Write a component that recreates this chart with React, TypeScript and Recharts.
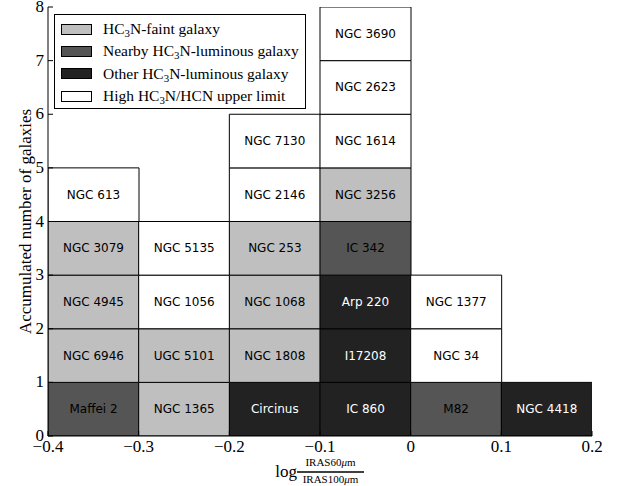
import { BarChart, Bar, XAxis, YAxis, Cell, LabelList, Legend } from 'recharts';

const binCenters = [-0.35, -0.25, -0.15, -0.05, 0.05, 0.15];

// galaxies per bin, listed from the bottom of the stack up
const galaxyNames = [
  ['Maffei 2', 'NGC 6946', 'NGC 4945', 'NGC 3079', 'NGC 613'],
  ['NGC 1365', 'UGC 5101', 'NGC 1056', 'NGC 5135'],
  ['Circinus', 'NGC 1808', 'NGC 1068', 'NGC 253', 'NGC 2146', 'NGC 7130'],
  ['IC 860', 'I17208', 'Arp 220', 'IC 342', 'NGC 3256', 'NGC 1614', 'NGC 2623', 'NGC 3690'],
  ['M82', 'NGC 34', 'NGC 1377'],
  ['NGC 4418'],
];

const galaxyClasses = [
  ['nearby', 'faint', 'faint', 'faint', 'limit'],
  ['faint', 'faint', 'limit', 'limit'],
  ['other', 'faint', 'faint', 'faint', 'limit', 'limit'],
  ['other', 'other', 'other', 'nearby', 'faint', 'limit', 'limit', 'limit'],
  ['nearby', 'limit', 'limit'],
  ['other'],
];

const xTicks = [-0.4, -0.3, -0.2, -0.1, 0, 0.1, 0.2];
const yTicks = [0, 1, 2, 3, 4, 5, 6, 7, 8];

const legendClasses = ['faint', 'nearby', 'other', 'limit'];

const classFill: Record<string, string> = {
  faint: '#bfbfbf',
  nearby: '#555555',
  other: '#222222',
  limit: '#ffffff',
};

const maxLevels = Math.max(...galaxyNames.map((g) => g.length));
const levels = Array.from({ length: maxLevels }, (_, k) => k);

const rows = binCenters.map((x, i) => {
  const row: any = { x };
  levels.forEach((k) => {
    row[`l${k}`] = k < galaxyNames[i].length ? 1 : null;
    row[`n${k}`] = galaxyNames[i][k];
    row[`c${k}`] = galaxyClasses[i][k];
  });
  return row;
});

const SERIF = '"Liberation Serif", "DejaVu Serif", serif';
const SANS = '"DejaVu Sans", sans-serif';

const fmt = (v: number) => {
  if (v === 0) return '0';
  const s = Math.abs(v).toFixed(1);
  return v < 0 ? `\u2212${s}` : s;
};

const BottomTick = ({ x, y, payload }: any) => (
  <g>
    <line x1={x} y1={y} x2={x} y2={y - 5} stroke="#000" />
    <text x={x} y={y + 16} textAnchor="middle" fontFamily={SERIF} fontSize={17} fill="#000">
      {fmt(payload.value)}
    </text>
  </g>
);

const TopTick = ({ x, y }: any) => <line x1={x} y1={y} x2={x} y2={y + 5} stroke="#000" />;

const LeftTick = ({ x, y, payload }: any) => (
  <g>
    <line x1={x} y1={y} x2={x + 5} y2={y} stroke="#000" />
    <text x={x - 4} y={y + 5} textAnchor="end" fontFamily={SERIF} fontSize={17} fill="#000">
      {payload.value}
    </text>
  </g>
);

const RightTick = ({ x, y }: any) => <line x1={x} y1={y} x2={x - 5} y2={y} stroke="#000" />;

const cellLabel = (k: number) => (props: any) => {
  const { x, y, width, height, value, index } = props;
  if (!value) return null;
  const cls = rows[index]?.[`c${k}`];
  return (
    <text
      x={x + width / 2}
      y={y + height / 2}
      textAnchor="middle"
      dominantBaseline="central"
      fontFamily={SANS}
      fontSize={12}
      fill={cls === 'other' ? '#ffffff' : '#000000'}
    >
      {value}
    </text>
  );
};

const HC3N = () => (
  <>
    HC<sub style={{ fontSize: '0.7em', verticalAlign: '-0.25em', lineHeight: 0 }}>3</sub>N
  </>
);

const legendText: Record<string, any> = {
  faint: <><HC3N />-faint galaxy</>,
  nearby: <>Nearby <HC3N />-luminous galaxy</>,
  other: <>Other <HC3N />-luminous galaxy</>,
  limit: <>High <HC3N />/HCN upper limit</>,
};

const LegendBox = () => (
  <div
    style={{
      border: '1px solid #000',
      background: '#fff',
      width: 252,
      height: 95,
      boxSizing: 'border-box',
      paddingTop: 3,
      fontFamily: SERIF,
      fontSize: 15.5,
      color: '#000',
    }}
  >
    {legendClasses.map((c) => (
      <div key={c} style={{ display: 'flex', alignItems: 'center', height: 22.3 }}>
        <span
          style={{
            display: 'inline-block',
            width: 29,
            height: 9,
            marginLeft: 6,
            marginRight: 11,
            border: '1px solid #000',
            background: classFill[c],
          }}
        />
        <span>{legendText[c]}</span>
      </div>
    ))}
  </div>
);

const XLabel = ({ viewBox }: any) => {
  const cx = viewBox.x + viewBox.width / 2;
  const y = viewBox.y;
  return (
    <g fontFamily={SERIF} fill="#000">
      <text x={cx - 23} y={y + 41} textAnchor="end" fontSize={17}>log</text>
      <line x1={cx - 23} y1={y + 36} x2={cx + 44} y2={y + 36} stroke="#000" strokeWidth={1.3} />
      <text x={cx + 10.5} y={y + 30} textAnchor="middle" fontSize={11}>
        IRAS60<tspan fontStyle="italic">μ</tspan>m
      </text>
      <text x={cx + 10.5} y={y + 47} textAnchor="middle" fontSize={11}>
        IRAS100<tspan fontStyle="italic">μ</tspan>m
      </text>
    </g>
  );
};

const YLabel = ({ viewBox }: any) => {
  const cy = viewBox.y + viewBox.height / 2;
  return (
    <text
      x={25}
      y={cy}
      transform={`rotate(-90 25 ${cy})`}
      textAnchor="middle"
      dominantBaseline="central"
      fontFamily={SERIF}
      fontSize={17}
      fill="#000"
    >
      Accumulated number of galaxies
    </text>
  );
};

export default function App() {
  return (
    <div style={{ position: 'absolute', left: 0, top: 0, width: 617, height: 486, background: '#fff' }}>
      <BarChart
        width={617}
        height={486}
        data={rows}
        margin={{ top: 7, right: 25, left: 18, bottom: 20 }}
        barCategoryGap={0}
        barGap={0}
      >
        {levels.map((k) => (
          <Bar key={k} dataKey={`l${k}`} stackId="s" isAnimationActive={false} stroke="#000" strokeWidth={1}>
            {rows.map((r, i) => (
              <Cell key={i} fill={classFill[r[`c${k}`]] ?? 'none'} stroke={r[`c${k}`] ? '#000' : 'none'} />
            ))}
            <LabelList dataKey={`n${k}`} content={cellLabel(k)} />
          </Bar>
        ))}
        <XAxis
          type="number"
          dataKey="x"
          domain={[-0.4, 0.2]}
          ticks={xTicks}
          allowDataOverflow
          height={30}
          tickSize={0}
          tickMargin={0}
          tickLine={false}
          axisLine={{ stroke: '#000' }}
          tick={<BottomTick />}
          interval={0}
          label={<XLabel />}
        />
        <XAxis
          xAxisId="top"
          orientation="top"
          type="number"
          domain={[-0.4, 0.2]}
          ticks={xTicks}
          allowDataOverflow
          height={0}
          tickSize={0}
          tickMargin={0}
          tickLine={false}
          axisLine={{ stroke: '#000' }}
          tick={<TopTick />}
          interval={0}
        />
        <YAxis
          type="number"
          domain={[0, 8]}
          ticks={yTicks}
          allowDataOverflow
          width={30}
          tickSize={0}
          tickMargin={0}
          tickLine={false}
          axisLine={{ stroke: '#000' }}
          tick={<LeftTick />}
          interval={0}
          label={<YLabel />}
        />
        <YAxis
          yAxisId="right"
          orientation="right"
          type="number"
          domain={[0, 8]}
          ticks={yTicks}
          allowDataOverflow
          width={0}
          tickSize={0}
          tickMargin={0}
          tickLine={false}
          axisLine={{ stroke: '#000' }}
          tick={<RightTick />}
          interval={0}
        />
        <Legend
          layout="vertical"
          align="center"
          verticalAlign="middle"
          content={<LegendBox />}
          wrapperStyle={{ position: 'absolute', left: 54, top: 14, width: 252, height: 95 }}
        />
      </BarChart>
    </div>
  );
}
